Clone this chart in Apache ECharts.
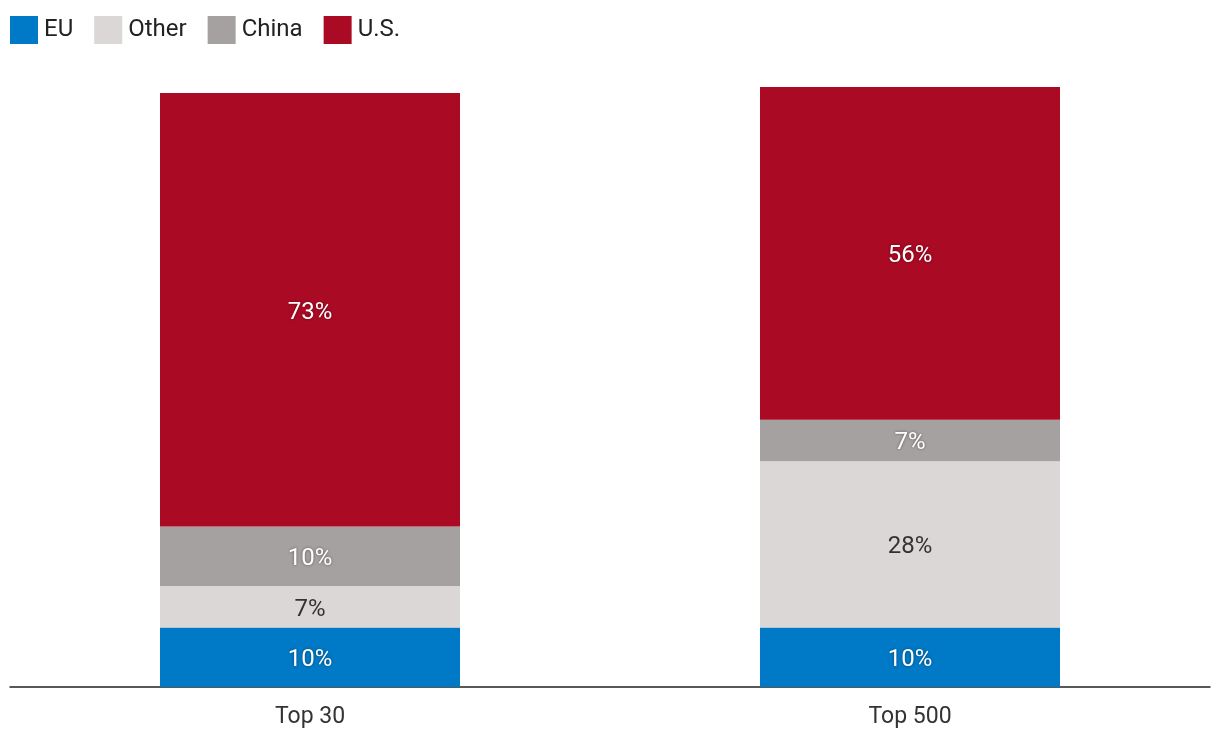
<!DOCTYPE html>
<html>
<head>
<meta charset="utf-8">
<script src="https://cdn.jsdelivr.net/npm/echarts@6/dist/echarts.min.js"></script>
<style>
  html, body { margin: 0; padding: 0; background: #fff; }
  #main { width: 1220px; height: 742px; }
</style>
</head>
<body>
<div id="main"></div>
<script>
// Data
var categories = ['Top 30', 'Top 500'];
var euData = [10, 10];
var otherData = [7, 28];
var chinaData = [10, 7];
var usData = [73, 56];

var myChart = echarts.init(document.getElementById('main'));

var FONT = 'Roboto';

function whiteLabel() {
    return {
        show: true,
        position: 'inside',
        offset: [0, 3],
        formatter: '{c}%',
        color: '#fff',
        fontFamily: FONT,
        fontSize: 24,
        textShadowColor: 'rgba(0,0,0,0.45)',
        textShadowBlur: 3
    };
}

var option = {
    animation: false,
    legend: {
        left: 10,
        top: 16,
        padding: 0,
        itemWidth: 28,
        itemHeight: 28,
        itemGap: 21,
        icon: 'rect',
        textStyle: { fontFamily: FONT, fontSize: 24, color: '#222', padding: [3, 0, 0, 1] },
        data: ['EU', 'Other', 'China', 'U.S.']
    },
    grid: { left: 10, right: 10, top: 87, bottom: 55 },
    xAxis: {
        type: 'category',
        data: categories,
        axisLine: { lineStyle: { color: '#222', width: 1.5 } },
        axisTick: { show: false },
        axisLabel: { fontFamily: FONT, fontSize: 23, color: '#333', margin: 19 }
    },
    yAxis: {
        type: 'value',
        min: 0,
        max: 101,
        show: false
    },
    series: [
        {
            name: 'EU', type: 'bar', stack: 'all', barWidth: 300,
            itemStyle: { color: '#0079c6' },
            label: whiteLabel(),
            data: euData
        },
        {
            name: 'Other', type: 'bar', stack: 'all',
            itemStyle: { color: '#dbd7d6' },
            label: {
                show: true, position: 'inside', offset: [0, 3], formatter: '{c}%',
                color: '#333', fontFamily: FONT, fontSize: 24
            },
            data: otherData
        },
        {
            name: 'China', type: 'bar', stack: 'all',
            itemStyle: { color: '#a5a1a0' },
            label: whiteLabel(),
            data: chinaData
        },
        {
            name: 'U.S.', type: 'bar', stack: 'all',
            itemStyle: { color: '#ab0a24' },
            label: whiteLabel(),
            data: usData
        }
    ]
};

myChart.setOption(option);
</script>
</body>
</html>
